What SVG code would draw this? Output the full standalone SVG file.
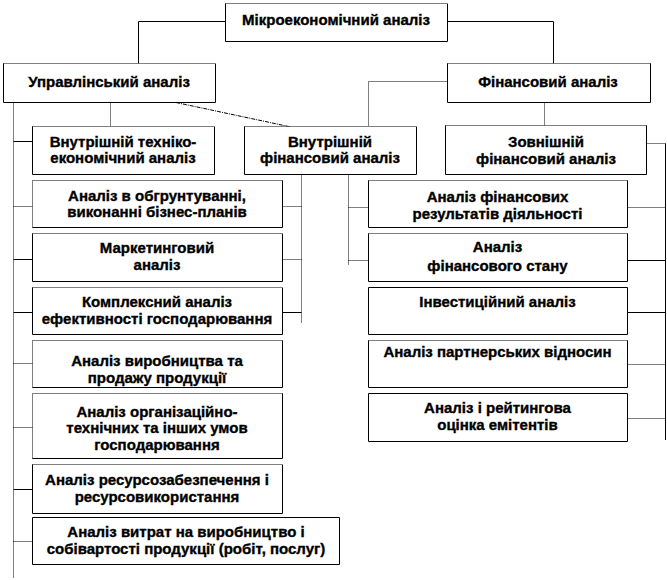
<svg xmlns="http://www.w3.org/2000/svg" width="667" height="580" viewBox="0 0 667 580">
<style>
.bx{fill:#fff;stroke:none}
.sd{fill:none;stroke:#000;stroke-width:1}
.dt{fill:none;stroke:#000;stroke-width:1;stroke-dasharray:1 1}
.dd{fill:none;stroke:#000;stroke-width:1;stroke-dasharray:4 1 1 1}
text{font-family:"Liberation Sans Narrow","Liberation Sans",Arial,sans-serif;font-weight:bold;font-size:15px;text-anchor:middle;fill:#000;stroke:#000;stroke-width:0.35}
</style>
<rect width="667" height="580" fill="#fff"/>
<g id="connectors">
<path class="sd" d="M225.5,21.5 H138.5 V63.5"/>
<path class="sd" d="M447.5,21.5 H553.5 V63.5"/>
<path class="dt" d="M13.5,102.5 V578"/>
<path class="sd" d="M13.5,141.5 H32.5"/>
<path class="dt" d="M13.5,206.5 H32.5"/>
<path class="sd" d="M13.5,259.5 H32.5"/>
<path class="sd" d="M13.5,312.5 H32.5"/>
<path class="dt" d="M13.5,363.5 H32.5"/>
<path class="dt" d="M13.5,427.5 H32.5"/>
<path class="sd" d="M13.5,489.5 H32.5"/>
<path class="dt" d="M13.5,541.5 H32.5"/>
<path class="dt" d="M110.5,102.5 V126.5"/>
<path class="dd" d="M176,102.5 L291,127"/>
<path class="dt" d="M447.5,81.5 H368.5 V126.5"/>
<path class="dt" d="M544.5,102.5 V125.5"/>
<path class="dt" d="M301.5,174.5 V323"/>
<path class="dt" d="M282.5,206.5 H301.5"/>
<path class="dt" d="M282.5,259.5 H301.5"/>
<path class="sd" d="M282.5,312.5 H301.5"/>
<path class="dt" d="M348.5,174.5 V265"/>
<path class="dt" d="M348.5,207.5 H368.5"/>
<path class="dt" d="M348.5,260.5 H368.5"/>
<path class="dt" d="M646.5,143.5 H665.5"/>
<path class="sd" d="M665.5,143.5 V440"/>
<path class="dt" d="M627.5,207.5 H665.5"/>
<path class="sd" d="M627.5,260.5 H665.5"/>
<path class="sd" d="M627.5,312.5 H665.5"/>
<path class="dt" d="M627.5,364.5 H665.5"/>
<path class="dt" d="M627.5,418.5 H665.5"/>
</g>
<g id="n-micro">
<rect class="bx" x="225.5" y="3.5" width="222" height="38"/>
<path class="sd" d="M225.5,3.5 V41.5 H447.5 V3.5"/><path class="dt" d="M225.5,3.5 H447.5"/>
<text x="336" y="25">Мікроекономічний аналіз</text>
</g>
<g id="n-upr">
<rect class="bx" x="3.5" y="63.5" width="212" height="39"/>
<path class="sd" d="M3.5,63.5 V102.5 H215.5 V63.5"/><path class="dt" d="M3.5,63.5 H215.5"/>
<text x="109" y="87">Управлінський аналіз</text>
</g>
<g id="n-fin">
<rect class="bx" x="447.5" y="63.5" width="203" height="39"/>
<path class="sd" d="M447.5,63.5 V102.5 H650.5 V63.5"/><path class="dt" d="M447.5,63.5 H650.5"/>
<text x="548" y="87">Фінансовий аналіз</text>
</g>
<g id="n-l0">
<rect class="bx" x="32.5" y="126.5" width="182" height="48"/>
<path class="sd" d="M32.5,126.5 V174.5 H214.5 V126.5"/><path class="dt" d="M32.5,126.5 H214.5"/>
<text x="123" y="147">Внутрішній техніко-</text>
<text x="123" y="163">економічний аналіз</text>
</g>
<g id="n-vf">
<rect class="bx" x="244.5" y="126.5" width="172" height="48"/>
<path class="sd" d="M244.5,126.5 V174.5 H416.5 V126.5"/><path class="dt" d="M244.5,126.5 H416.5"/>
<text x="330" y="147">Внутрішній</text>
<text x="330" y="163">фінансовий аналіз</text>
</g>
<g id="n-zf">
<rect class="bx" x="445.5" y="125.5" width="201" height="49"/>
<path class="sd" d="M445.5,125.5 V174.5 H646.5 V125.5"/><path class="dt" d="M445.5,125.5 H646.5"/>
<text x="546" y="147">Зовнішній</text>
<text x="546" y="164">фінансовий аналіз</text>
</g>
<g id="n-l1">
<rect class="bx" x="32.5" y="180.5" width="250" height="47"/>
<path class="sd" d="M32.5,227.5 H282.5 V180.5"/><path class="dt" d="M32.5,227.5 V180.5 H282.5"/>
<text x="157" y="201">Аналіз в обгрунтуванні,</text>
<text x="157" y="217">виконанні бізнес-планів</text>
</g>
<g id="n-l2">
<rect class="bx" x="32.5" y="233.5" width="250" height="48"/>
<path class="sd" d="M32.5,233.5 V281.5 H282.5 V233.5"/><path class="dt" d="M32.5,233.5 H282.5"/>
<text x="157" y="253">Маркетинговий</text>
<text x="157" y="270">аналіз</text>
</g>
<g id="n-l3">
<rect class="bx" x="32.5" y="287.5" width="250" height="47"/>
<path class="sd" d="M32.5,287.5 V334.5 H282.5 V287.5"/><path class="dt" d="M32.5,287.5 H282.5"/>
<text x="157" y="307">Комплексний аналіз</text>
<text x="157" y="324">ефективності господарювання</text>
</g>
<g id="n-l4">
<rect class="bx" x="32.5" y="340.5" width="250" height="47"/>
<path class="sd" d="M32.5,387.5 H282.5 V340.5"/><path class="dt" d="M32.5,387.5 V340.5 H282.5"/>
<text x="157" y="366">Аналіз виробництва та</text>
<text x="157" y="383">продажу продукції</text>
</g>
<g id="n-l5">
<rect class="bx" x="32.5" y="393.5" width="250" height="65"/>
<path class="sd" d="M32.5,458.5 H282.5 V393.5"/><path class="dt" d="M32.5,458.5 V393.5 H282.5"/>
<text x="157" y="417">Аналіз організаційно-</text>
<text x="157" y="433">технічних та інших умов</text>
<text x="157" y="450">господарювання</text>
</g>
<g id="n-l6">
<rect class="bx" x="32.5" y="464.5" width="250" height="49"/>
<path class="sd" d="M32.5,464.5 V513.5 H282.5 V464.5"/><path class="dt" d="M32.5,464.5 H282.5"/>
<text x="157" y="485">Аналіз ресурсозабезпечення і</text>
<text x="157" y="502">ресурсовикористання</text>
</g>
<g id="n-l7">
<rect class="bx" x="32.5" y="517.5" width="307" height="47"/>
<path class="sd" d="M32.5,517.5 V564.5 H339.5 V517.5 Z"/>
<text x="186" y="537">Аналіз витрат на виробництво і</text>
<text x="186" y="554">собівартості продукції (робіт, послуг)</text>
</g>
<g id="n-r1">
<rect class="bx" x="368.5" y="180.5" width="259" height="47"/>
<path class="sd" d="M368.5,180.5 V227.5 H627.5 V180.5"/><path class="dt" d="M368.5,180.5 H627.5"/>
<text x="497.5" y="202">Аналіз фінансових</text>
<text x="497.5" y="219">результатів діяльності</text>
</g>
<g id="n-r2">
<rect class="bx" x="368.5" y="233.5" width="259" height="48"/>
<path class="sd" d="M368.5,233.5 V281.5 H627.5 V233.5"/><path class="dt" d="M368.5,233.5 H627.5"/>
<text x="497.5" y="252">Аналіз</text>
<text x="497.5" y="271">фінансового стану</text>
</g>
<g id="n-r3">
<rect class="bx" x="368.5" y="287.5" width="259" height="47"/>
<path class="sd" d="M368.5,287.5 V334.5 H627.5 V287.5 Z"/>
<text x="497.5" y="307">Інвестиційний аналіз</text>
</g>
<g id="n-r4">
<rect class="bx" x="368.5" y="340.5" width="259" height="47"/>
<path class="sd" d="M368.5,340.5 V387.5 H627.5 V340.5"/><path class="dt" d="M368.5,340.5 H627.5"/>
<text x="497.5" y="357">Аналіз партнерських відносин</text>
</g>
<g id="n-r5">
<rect class="bx" x="368.5" y="393.5" width="259" height="48"/>
<path class="sd" d="M368.5,393.5 V441.5 H627.5 V393.5 Z"/>
<text x="497.5" y="413">Аналіз і рейтингова</text>
<text x="497.5" y="430">оцінка емітентів</text>
</g>
</svg>
